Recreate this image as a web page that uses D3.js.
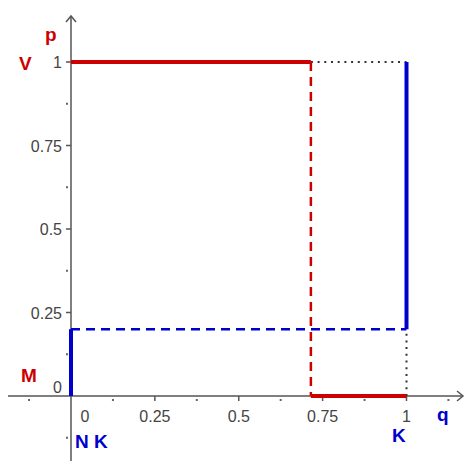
<!DOCTYPE html>
<html>
<head>
<meta charset="utf-8">
<script src="https://cdn.jsdelivr.net/npm/d3@7"></script>
<style>
  html, body { margin: 0; padding: 0; background: #fff; }
  svg { display: block; }
  text { font-family: "Liberation Sans", Arial, sans-serif; }
</style>
</head>
<body>
<svg id="chart" width="465" height="461"></svg>
<script>
// Best-response thresholds
const qStar = 0.715;   // where the red player switches from p=1 to p=0
const pStar = 0.2;     // where the blue player switches from q=0 to q=1

const majorTicks = [0.25, 0.5, 0.75, 1];
const minorTicksX = [-0.125, 0.125, 0.375, 0.625, 0.875, 1.125];
const minorTicksY = [-0.125, 0.125, 0.375, 0.625, 0.875];

// Red player's best response (p as a function of q)
const redSolid = [
  [[0, 1], [qStar, 1]],
  [[qStar, 0], [1, 0]]
];
const redDashed = [[[qStar, 1], [qStar, 0]]];

// Blue player's best response (q as a function of p)
const blueSolid = [
  [[0, 0], [0, pStar]],
  [[1, pStar], [1, 1]]
];
const blueDashed = [[[0, pStar], [1, pStar]]];

// Guide lines
const dotted = [
  [[qStar, 1], [1, 1]],
  [[1, 0], [1, pStar]]
];

const RED = "#cc0000", BLUE = "#0000cc", AXIS = "#555";

const svg = d3.select("#chart");
const x = d3.scaleLinear().domain([0, 1]).range([71, 406.5]);
const y = d3.scaleLinear().domain([0, 1]).range([396, 62]);
const line = d3.line().x(d => x(d[0])).y(d => y(d[1]));

// Axes lines
const gAx = svg.append("g");
gAx.append("line").attr("x1", 8).attr("x2", 463).attr("y1", y(0)).attr("y2", y(0))
  .attr("stroke", AXIS).attr("stroke-width", 1.5);
gAx.append("line").attr("x1", x(0)).attr("x2", x(0)).attr("y1", 16).attr("y2", 461)
  .attr("stroke", AXIS).attr("stroke-width", 1.5);
// Arrow heads
gAx.append("path").attr("d", `M${x(0) - 5},${22} L${x(0)},${16} L${x(0) + 5},${22}`)
  .attr("fill", "none").attr("stroke", AXIS).attr("stroke-width", 1.5);
gAx.append("path").attr("d", `M${457},${y(0) - 5} L${463},${y(0)} L${457},${y(0) + 5}`)
  .attr("fill", "none").attr("stroke", AXIS).attr("stroke-width", 1.5);

// Major ticks
gAx.selectAll(".tx").data(majorTicks).join("line")
  .attr("x1", d => x(d)).attr("x2", d => x(d)).attr("y1", y(0)).attr("y2", y(0) + 5)
  .attr("stroke", AXIS).attr("stroke-width", 1.5);
gAx.selectAll(".ty").data(majorTicks).join("line")
  .attr("x1", x(0) - 5).attr("x2", x(0)).attr("y1", d => y(d)).attr("y2", d => y(d))
  .attr("stroke", AXIS).attr("stroke-width", 1.5);

// Minor tick dots
gAx.selectAll(".mx").data(minorTicksX).join("rect")
  .attr("x", d => x(d) - 1).attr("y", y(0) + 3).attr("width", 2).attr("height", 2)
  .attr("fill", "#666");
gAx.selectAll(".my").data(minorTicksY).join("rect")
  .attr("x", x(0) - 5).attr("y", d => y(d) - 1).attr("width", 2).attr("height", 2)
  .attr("fill", "#666");

// Tick labels
const fmt = d => String(d);
gAx.selectAll(".lx").data(majorTicks).join("text")
  .attr("x", d => x(d)).attr("y", y(0) + 26).attr("text-anchor", "middle")
  .attr("font-size", 16).attr("fill", "#444").text(fmt);
gAx.selectAll(".ly").data(majorTicks).join("text")
  .attr("x", x(0) - 9).attr("y", d => y(d) + 6).attr("text-anchor", "end")
  .attr("font-size", 16).attr("fill", "#444").text(fmt);
gAx.append("text").attr("x", x(0) + 14).attr("y", y(0) + 26).attr("text-anchor", "middle")
  .attr("font-size", 16).attr("fill", "#444").text("0");
gAx.append("text").attr("x", x(0) - 9).attr("y", y(0) - 3).attr("text-anchor", "end")
  .attr("font-size", 16).attr("fill", "#444").text("0");

// Guides
svg.append("g").selectAll("path").data(dotted).join("path")
  .attr("d", line).attr("fill", "none").attr("stroke", "#333")
  .attr("stroke-width", 2).attr("stroke-dasharray", "2,4.7");

// Dashed connectors
svg.append("g").selectAll("path").data(blueDashed).join("path")
  .attr("d", line).attr("fill", "none").attr("stroke", BLUE)
  .attr("stroke-width", 2.5).attr("stroke-dasharray", "9,6");
svg.append("g").selectAll("path").data(redDashed).join("path")
  .attr("d", line).attr("fill", "none").attr("stroke", RED)
  .attr("stroke-width", 2.5).attr("stroke-dasharray", "9,6");

// Solid best responses
svg.append("g").selectAll("path").data(redSolid).join("path")
  .attr("d", line).attr("fill", "none").attr("stroke", RED).attr("stroke-width", 4);
svg.append("g").selectAll("path").data(blueSolid).join("path")
  .attr("d", line).attr("fill", "none").attr("stroke", BLUE).attr("stroke-width", 4);

// Labels
const labels = [
  { t: "p", x: 45, y: 41, c: RED },
  { t: "V", x: 19, y: 70, c: RED },
  { t: "M", x: 21, y: 382, c: RED },
  { t: "N K", x: 75, y: 448, c: BLUE },
  { t: "K", x: 392, y: 442, c: BLUE },
  { t: "q", x: 437, y: 421, c: BLUE }
];
svg.append("g").selectAll("text").data(labels).join("text")
  .attr("x", d => d.x).attr("y", d => d.y).attr("fill", d => d.c)
  .attr("font-size", 19).attr("font-weight", "bold").text(d => d.t);
</script>
</body>
</html>
